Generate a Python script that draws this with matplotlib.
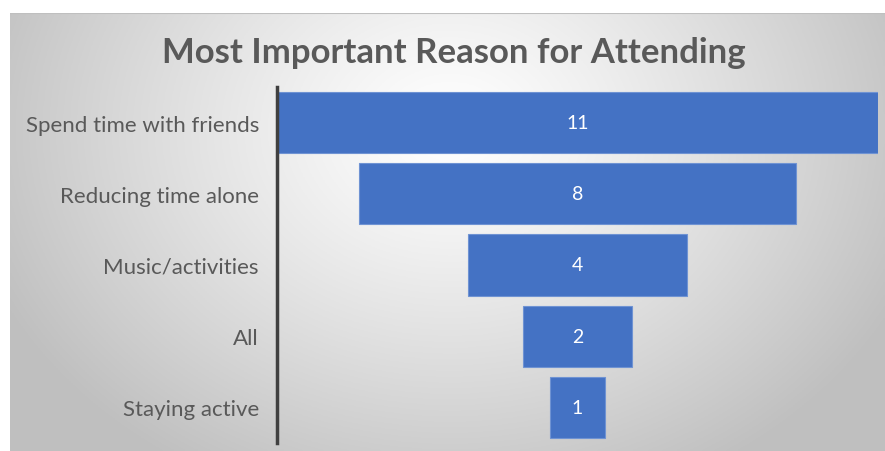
import numpy as np
import matplotlib.pyplot as plt

categories = ['Spend time with friends', 'Reducing time alone', 'Music/activities', 'All', 'Staying active']
counts = [11, 8, 4, 2, 1]

W, H = 885, 452
fig = plt.figure(figsize=(W / 100, H / 100), dpi=100)
fig.patch.set_facecolor('white')

# radial grey background of the chart area
bg = fig.add_axes([10 / W, 0, 1 - 10 / W, 1 - 14 / H])
bg.set_axis_off()
gx, gy = np.meshgrid(np.linspace(10, 885, 400), np.linspace(14, 452, 200))
r = np.sqrt(((gx - 450) / 500) ** 2 + ((gy - 130) / 400) ** 2)
r = np.clip(r, 0, 1)
shade = 1 - 0.25 * r ** 1.2
bg.imshow(np.dstack([shade, shade, shade]), aspect='auto', extent=[0, 1, 0, 1])
bg.plot([0, 1], [1, 1], color='#bfbfbf', lw=1.5, transform=bg.transAxes)
bg.set_xlim(0, 1)
bg.set_ylim(0, 1)

ax = fig.add_axes([277 / W, 1 - 444 / H, 601 / W, 356 / H])
ax.patch.set_alpha(0)
y = np.arange(len(categories))
ax.barh(y, counts, left=[-c / 2 for c in counts], height=0.86, color='#4472c4',
        edgecolor='#6f93d3', linewidth=0.8)
for yi, c in zip(y, counts):
    ax.text(0, yi, str(c), color='white', ha='center', va='center', fontsize=14,
            family='Lato')
ax.set_xlim(-5.5, 5.5)
ax.set_ylim(4.5, -0.5)
ax.set_yticks(y)
ax.set_yticklabels(categories, fontsize=16, color='#595959', family='Lato')
ax.tick_params(axis='y', length=0, pad=13)
ax.set_xticks([])
for s in ['top', 'right', 'bottom']:
    ax.spines[s].set_visible(False)
ax.spines['left'].set_color('#404040')
ax.spines['left'].set_linewidth(2.5)

fig.text(454 / W, 1 - 53 / H, 'Most Important Reason for Attending', ha='center', va='center',
         fontsize=25, fontweight='bold', color='#595959', family='Lato')

fig.savefig('out.png', dpi=100)
